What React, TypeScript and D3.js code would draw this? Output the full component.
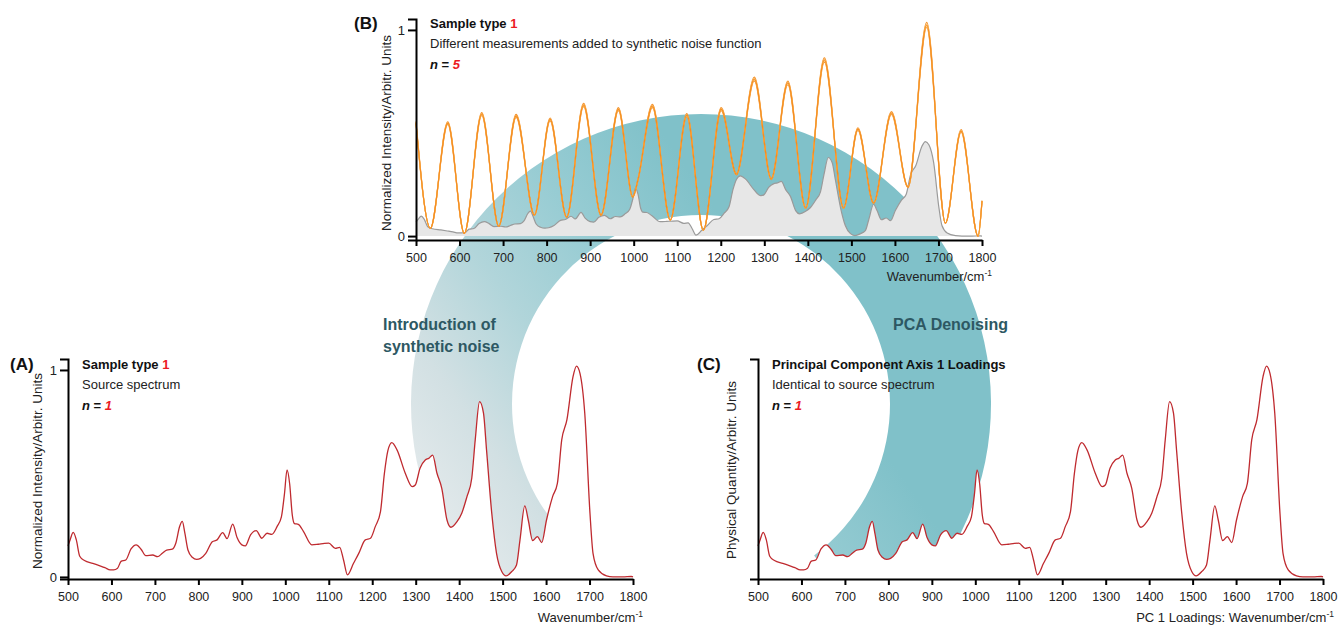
import React, { useEffect, useRef } from "react";
import * as d3 from "d3";

// ---- Source spectrum (panel A / C) ----
const wavenumbers = [500, 505, 512, 519, 527, 538, 557, 572, 585, 597, 605, 614, 622, 633, 645, 657, 668, 679, 695, 706, 717, 727, 740, 748, 757, 763, 769, 776, 786, 796, 805, 817, 832, 843, 856, 866, 879, 889, 900, 908, 920, 933, 946, 958, 969, 981, 991, 998, 1004, 1010, 1016, 1021, 1030, 1042, 1061, 1076, 1090, 1100, 1115, 1125, 1134, 1143, 1157, 1169, 1184, 1196, 1207, 1219, 1228, 1236, 1245, 1257, 1276, 1292, 1299, 1310, 1322, 1330, 1339, 1349, 1360, 1372, 1381, 1395, 1406, 1418, 1429, 1437, 1447, 1456, 1463, 1475, 1486, 1498, 1508, 1521, 1532, 1540, 1551, 1559, 1569, 1580, 1590, 1601, 1615, 1626, 1636, 1648, 1662, 1670, 1678, 1689, 1701, 1708, 1720, 1739, 1754, 1777, 1796, 1800];
const sourceIntensity = [0.15, 0.18, 0.215, 0.18, 0.1, 0.079, 0.066, 0.055, 0.045, 0.034, 0.034, 0.042, 0.075, 0.082, 0.135, 0.155, 0.134, 0.103, 0.106, 0.098, 0.114, 0.13, 0.134, 0.163, 0.245, 0.268, 0.21, 0.13, 0.095, 0.085, 0.09, 0.114, 0.17, 0.179, 0.214, 0.185, 0.255, 0.19, 0.155, 0.15, 0.203, 0.224, 0.187, 0.211, 0.206, 0.243, 0.29, 0.4, 0.517, 0.45, 0.3, 0.258, 0.254, 0.219, 0.155, 0.158, 0.162, 0.163, 0.138, 0.143, 0.082, 0.01, 0.066, 0.114, 0.179, 0.187, 0.243, 0.316, 0.5, 0.61, 0.649, 0.614, 0.501, 0.436, 0.444, 0.525, 0.565, 0.573, 0.589, 0.501, 0.428, 0.275, 0.24, 0.267, 0.308, 0.388, 0.477, 0.662, 0.847, 0.791, 0.614, 0.308, 0.114, 0.026, 0.005, 0.026, 0.058, 0.179, 0.343, 0.275, 0.176, 0.195, 0.166, 0.275, 0.388, 0.452, 0.662, 0.76, 0.968, 1.019, 0.984, 0.791, 0.308, 0.114, 0.034, 0.005, 0.0, 0.0, 0.002, 0.0];

// ---- Panel B: measurement scaling of source spectrum, and noisy measurements ----
const measurementBaselineScale = 0.45;
const noiseWavenumbers = [500, 533, 573, 611, 651, 690, 730, 772, 808, 846, 885, 925, 965, 998, 1010, 1043, 1084, 1122, 1160, 1201, 1236, 1277, 1316, 1354, 1395, 1438, 1482, 1515, 1551, 1592, 1630, 1673, 1716, 1752, 1791, 1800];
const noiseIntensity = [0.55, 0.038, 0.548, 0.013, 0.592, 0.048, 0.583, 0.102, 0.566, 0.092, 0.636, 0.102, 0.616, 0.19, 0.275, 0.631, 0.078, 0.587, 0.029, 0.616, 0.3, 0.762, 0.277, 0.743, 0.136, 0.854, 0.136, 0.519, 0.16, 0.597, 0.238, 1.024, 0.063, 0.51, 0.0, 0.17];
const measurementScales = [1.012, 0.988, 1.005, 0.995, 1.0];
const measurementColors = ["#f39028", "#f39028", "#fbc46e", "#fbc46e", "#f58c1f"];
const measurementWidths = [1.2, 1.2, 1.0, 1.0, 1.1];

const xTicks = [500, 600, 700, 800, 900, 1000, 1100, 1200, 1300, 1400, 1500, 1600, 1700, 1800];
const yTicks = [0, 1];

const FONT = "'Liberation Sans', Arial, Helvetica, sans-serif";
const RED_TEXT = "#ec1c24";
const LINE_RED = "#bf2a2f";

export default function App() {
  const ref = useRef<SVGSVGElement>(null);

  useEffect(() => {
    const svg = d3.select(ref.current);
    svg.selectAll("*").remove();
    const defs = svg.append("defs");

    const source: [number, number][] = wavenumbers.map((w, i) => [w, sourceIntensity[i]]);

    // ---- Ring (arcs) ----
    const cx = 701, cy = 404;
    const grad = defs.append("linearGradient").attr("id", "ringGrad")
      .attr("gradientUnits", "userSpaceOnUse")
      .attr("x1", 470 - cx).attr("y1", 560 - cy).attr("x2", 800 - cx).attr("y2", 330 - cy);
    [[0, "#e2e9eb"], [0.2, "#d2e0e3"], [0.45, "#b1d5da"], [0.7, "#97ccd3"], [1, "#80c1c9"]].forEach(([o, c]) =>
      grad.append("stop").attr("offset", o as number).attr("stop-color", c as string));
    defs.append("clipPath").attr("id", "ringClip").append("rect")
      .attr("x", 0).attr("y", 0).attr("width", 1341).attr("height", 579);
    const ringArc = d3.arc()({ innerRadius: 189, outerRadius: 290, startAngle: -2.5, endAngle: 2.5 } as any) as string;
    svg.append("g").attr("clip-path", "url(#ringClip)")
      .append("path").attr("d", ringArc)
      .attr("transform", `translate(${cx},${cy})`)
      .attr("fill", "url(#ringGrad)");

    const styleAxis = (g: any) => {
      g.attr("font-family", FONT).attr("font-size", 12.5);
      g.select(".domain").attr("stroke", "#000").attr("stroke-width", 2);
      g.selectAll(".tick line").attr("stroke", "#000").attr("stroke-width", 2);
      g.selectAll(".tick text").attr("fill", "#222");
    };

    const drawAxes = (x: any, y: any, showYTicks: boolean) => {
      const gx = svg.append("g").attr("transform", `translate(0,${y.range()[0]})`)
        .call(d3.axisBottom(x).tickValues(xTicks).tickFormat(d3.format("d")).tickSize(6).tickSizeOuter(0).tickPadding(7));
      styleAxis(gx);
      const gy = svg.append("g").attr("transform", `translate(${x.range()[0]},0)`)
        .call(d3.axisLeft(y).tickValues(showYTicks ? yTicks : []).tickFormat(d3.format("d")).tickSize(8).tickSizeOuter(8).tickPadding(3));
      styleAxis(gy);
      gy.selectAll(".tick text").attr("font-size", 13);
    };

    const titleBlock = (x0: number, yBase: number, panel: string, panelX: number, bold: [string, string], sub: string, n: string) => {
      svg.append("text").attr("x", panelX).attr("y", yBase + 1).attr("font-family", FONT)
        .attr("font-size", 17).attr("font-weight", "bold").attr("fill", "#111").text(panel);
      const t1 = svg.append("text").attr("x", x0).attr("y", yBase).attr("font-family", FONT)
        .attr("font-size", 13).attr("font-weight", "bold").attr("fill", "#111");
      t1.append("tspan").text(bold[0]);
      if (bold[1]) t1.append("tspan").attr("fill", RED_TEXT).text(bold[1]);
      svg.append("text").attr("x", x0).attr("y", yBase + 20.5).attr("font-family", FONT)
        .attr("font-size", 13).attr("fill", "#222").text(sub);
      const t3 = svg.append("text").attr("x", x0).attr("y", yBase + 41.5).attr("font-family", FONT)
        .attr("font-size", 13).attr("font-weight", "bold").attr("fill", "#111");
      t3.append("tspan").attr("font-style", "italic").text("n");
      t3.append("tspan").text(" = ");
      t3.append("tspan").attr("font-style", "italic").attr("fill", RED_TEXT).text(n);
    };

    const yLabel = (x: number, y: number, label: string) => {
      svg.append("text").attr("transform", `translate(${x},${y}) rotate(-90)`)
        .attr("text-anchor", "middle").attr("font-family", FONT).attr("font-size", 13.5)
        .attr("fill", "#222").text(label);
    };
    const xLabel = (x: number, y: number, label: string) => {
      const t = svg.append("text").attr("x", x).attr("y", y).attr("text-anchor", "end")
        .attr("font-family", FONT).attr("font-size", 13).attr("fill", "#222");
      t.append("tspan").text(label);
      t.append("tspan").attr("font-size", 8.5).attr("dy", -5).text("-1");
    };

    // ---- Panel B ----
    {
      const x = d3.scaleLinear().domain([500, 1800]).range([416, 982]);
      const y = d3.scaleLinear().domain([-0.019, 1.053]).range([240, 19]);
      const scaled: [number, number][] = source.map(([w, v]) => [w, v * measurementBaselineScale]);
      const area = d3.area<[number, number]>().x(d => x(d[0])).y0(y(0)).y1(d => y(d[1])).curve(d3.curveMonotoneX);
      const line = d3.line<[number, number]>().x(d => x(d[0])).y(d => y(d[1])).curve(d3.curveMonotoneX);
      svg.append("path").attr("d", area(scaled)).attr("fill", "#e7e7e7");
      svg.append("path").attr("d", line(scaled)).attr("fill", "none").attr("stroke", "#9a9a9a").attr("stroke-width", 1.2);
      measurementScales.forEach((s, k) => {
        const pts: [number, number][] = noiseWavenumbers.map((w, i) => [w, noiseIntensity[i] * s]);
        svg.append("path").attr("d", line(pts)).attr("fill", "none")
          .attr("stroke", measurementColors[k]).attr("stroke-width", measurementWidths[k]);
      });
      drawAxes(x, y, true);
      titleBlock(430, 27.5, "(B)", 354, ["Sample type ", "1"], "Different measurements added to synthetic noise function", "5");
      yLabel(391, 133, "Normalized Intensity/Arbitr. Units");
      xLabel(992, 281, "Wavenumber/cm");
    }

    const drawSpectrumPanel = (x0: number, x1: number, showYTicks: boolean) => {
      const x = d3.scaleLinear().domain([500, 1800]).range([x0, x1]);
      const y = d3.scaleLinear().domain([-0.01, 1.053]).range([579, 359]);
      const area = d3.area<[number, number]>().x(d => x(d[0])).y0(y(-0.01)).y1(d => y(d[1])).curve(d3.curveMonotoneX);
      const line = d3.line<[number, number]>().x(d => x(d[0])).y(d => y(d[1])).curve(d3.curveMonotoneX);
      svg.append("path").attr("d", area(source)).attr("fill", "#fff");
      svg.append("path").attr("d", line(source)).attr("fill", "none").attr("stroke", LINE_RED).attr("stroke-width", 1.3);
      drawAxes(x, y, showYTicks);
    };

    // ---- Panel A ----
    drawSpectrumPanel(68, 633, true);
    titleBlock(82, 368.5, "(A)", 10, ["Sample type ", "1"], "Source spectrum", "1");
    yLabel(42, 471, "Normalized Intensity/Arbitr. Units");
    xLabel(643, 622, "Wavenumber/cm");

    // ---- Panel C ----
    drawSpectrumPanel(758, 1323, false);
    titleBlock(772, 368.5, "(C)", 697, ["Principal Component Axis 1 Loadings", ""], "Identical to source spectrum", "1");
    yLabel(736, 470, "Physical Quantity/Arbitr. Units");
    xLabel(1334, 622, "PC 1 Loadings: Wavenumber/cm");

    // ---- Arc labels ----
    const arcLabel = (x: number, y: number, s: string) =>
      svg.append("text").attr("x", x).attr("y", y).attr("font-family", FONT).attr("font-size", 16)
        .attr("font-weight", "bold").attr("fill", "#2d5863").text(s);
    arcLabel(383, 330, "Introduction of");
    arcLabel(383, 352, "synthetic noise");
    arcLabel(893, 330, "PCA Denoising");
  }, []);

  return (
    <svg ref={ref} width={1341} height={625}
      style={{ position: "absolute", left: 0, top: 0, background: "#fff" }} />
  );
}
